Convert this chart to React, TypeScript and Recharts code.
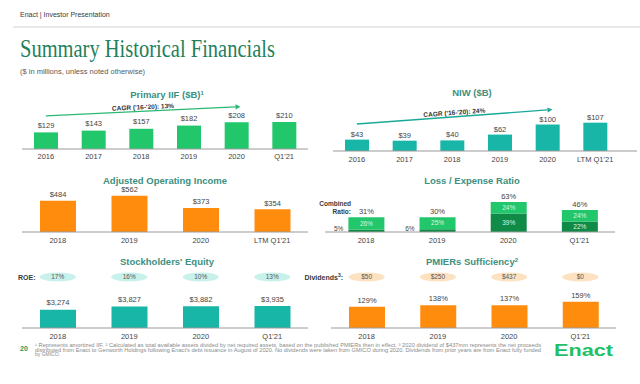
import { BarChart, Bar, XAxis, YAxis, LabelList, ReferenceLine } from "recharts";

const FONT = "'Liberation Sans', Arial, sans-serif";

// Primary IIF ($B)
const iifCats = ["2016", "2017", "2018", "2019", "2020", "Q1'21"];
const iifValues = [129, 143, 157, 182, 208, 210];

// NIW ($B)
const niwCats = ["2016", "2017", "2018", "2019", "2020", "LTM Q1'21"];
const niwValues = [43, 39, 40, 62, 100, 107];

// Adjusted operating income ($mm)
const aoiCats = ["2018", "2019", "2020", "LTM Q1'21"];
const aoiValues = [484, 562, 373, 354];

// Loss / expense ratio (%)
const ratioCats = ["2018", "2019", "2020", "Q1'21"];
const lossRatio = [5, 6, 39, 22];
const expenseRatio = [26, 25, 24, 24];
const combinedRatio = [31, 30, 63, 46];

// Stockholders' equity ($mm) and ROE
const equityCats = ["2018", "2019", "2020", "Q1'21"];
const equityValues = [3274, 3827, 3882, 3935];
const roeLabels = ["17%", "16%", "10%", "13%"];

// PMIERs sufficiency (%) and dividends
const pmiersCats = ["2018", "2019", "2020", "Q1'21"];
const pmiersValues = [129, 138, 137, 159];
const dividendLabels = ["$50", "$250", "$437", "$0"];

const GREEN = "#22c76b";
const DARK_GREEN = "#0f8a47";
const TEAL = "#17b6a7";
const ORANGE = "#ff8c0c";
const HEAD = "#3d8f80";
const AXIS = "#9a9a9a";

const iifData = iifCats.map((cat, i) => ({ cat, value: iifValues[i] }));
const niwData = niwCats.map((cat, i) => ({ cat, value: niwValues[i] }));
const aoiData = aoiCats.map((cat, i) => ({ cat, value: aoiValues[i] }));
const ratioData = ratioCats.map((cat, i) => ({
  cat,
  loss: lossRatio[i],
  expense: expenseRatio[i],
  combined: combinedRatio[i],
}));
const equityData = equityCats.map((cat, i) => ({ cat, value: equityValues[i], roe: roeLabels[i] }));
const pmiersData = pmiersCats.map((cat, i) => ({ cat, value: pmiersValues[i], div: dividendLabels[i] }));

const tickStyle = { fontSize: 7.5, fill: "#444", fontFamily: FONT };
const labelStyle = { fontSize: 7.5, fill: "#444", fontFamily: FONT };

const dollar = (v: any) => "$" + Number(v).toLocaleString("en-US");
const pct = (v: any) => v + "%";

// arrow with the CAGR text sitting on it
const cagrShape = (text: string, color: string, extend: number) => (p: any) => {
  const { x1, y1 } = p;
  const ang = Math.atan2(p.y2 - p.y1, p.x2 - p.x1);
  const x2 = p.x2 + extend * Math.cos(ang);
  const y2 = p.y2 + extend * Math.sin(ang);
  const deg = (ang * 180) / Math.PI;
  const mx = (x1 + x2) / 2;
  const my = (y1 + y2) / 2;
  const hx = x2 - 5 * Math.cos(ang);
  const hy = y2 - 5 * Math.sin(ang);
  const nx = -Math.sin(ang) * 2.6;
  const ny = Math.cos(ang) * 2.6;
  return (
    <g>
      <line x1={x1} y1={y1} x2={hx} y2={hy} stroke={color} strokeWidth={1.3} />
      <polygon points={`${x2},${y2} ${hx + nx},${hy + ny} ${hx - nx},${hy - ny}`} fill={color} />
      <text
        x={mx}
        y={my - 2}
        textAnchor="middle"
        fontSize={6.5}
        fontWeight="bold"
        fill="#333"
        fontFamily={FONT}
        transform={`rotate(${deg} ${mx} ${my})`}
      >
        {text}
      </text>
    </g>
  );
};

const pillTick = (fill: string, dy: number) => (p: any) => (
  <g>
    <ellipse cx={p.x} cy={p.y + dy} rx={18} ry={4.6} fill={fill} />
    <text x={p.x} y={p.y + dy} dy="0.35em" textAnchor="middle" fontSize={6.5} fill="#555" fontFamily={FONT}>
      {p.payload.value}
    </text>
  </g>
);

const lossLabel = (p: any) => {
  const vb = p.viewBox || p;
  const { x, y, width, height } = vb;
  const v = p.value;
  if (v < 10) {
    return (
      <text x={x - 5} y={y + height / 2} dy="0.1em" textAnchor="end" fontSize={6.5} fill="#444" fontFamily={FONT}>
        {v}%
      </text>
    );
  }
  return (
    <text x={x + width / 2} y={y + height / 2} dy="0.35em" textAnchor="middle" fontSize={6.5} fill="#d9f5e3" fontFamily={FONT}>
      {v}%
    </text>
  );
};

const Box = ({ left, top, children }: any) => (
  <div style={{ position: "absolute", left, top }}>{children}</div>
);

const App = () => {
  return (
    <div
      style={{
        position: "absolute",
        left: 0,
        top: 0,
        width: 640,
        height: 384,
        background: "#fff",
        overflow: "hidden",
        fontFamily: FONT,
      }}
    >
      <svg width={640} height={384} style={{ position: "absolute", left: 0, top: 0 }}>
        <text x={20} y={17} fontSize={7} fill="#3a3a3a" fontFamily={FONT}>
          Enact | Investor Presentation
        </text>
        <line x1={13} x2={640} y1={27} y2={27} stroke="#d4d4d4" strokeWidth={1} />
        <text
          x={20}
          y={57}
          fontSize={25}
          fill="#23805a"
          fontFamily="'Liberation Serif', 'DejaVu Serif', serif"
          textLength={255}
          lengthAdjust="spacingAndGlyphs"
        >
          Summary Historical Financials
        </text>
        <text x={20} y={74} fontSize={7.5} fill="#595959" fontFamily={FONT}>
          ($ in millions, unless noted otherwise)
        </text>

        <g fontFamily={FONT} fontWeight="bold" fontSize={9.5} fill={HEAD} textAnchor="middle">
          <text x={167} y={98.4}>
            Primary IIF ($B)<tspan fontSize={6} dy={-3.5}>1</tspan>
          </text>
          <text x={472} y={96.4}>NIW ($B)</text>
          <text x={165} y={184.4}>Adjusted Operating Income</text>
          <text x={472} y={184.4}>Loss / Expense Ratio</text>
          <text x={167} y={265.4}>Stockholders' Equity</text>
          <text x={472} y={265.4}>
            PMIERs Sufficiency<tspan fontSize={6} dy={-3.5}>2</tspan>
          </text>
        </g>

        <g fontFamily={FONT} fontWeight="bold" fill="#3a3a3a">
          <text x={351} y={205.5} fontSize={6.5} textAnchor="end">Combined</text>
          <text x={351} y={213.5} fontSize={6.5} textAnchor="end">Ratio:</text>
          <text x={18} y={279.5} fontSize={7}>ROE:</text>
          <text x={343} y={279.5} fontSize={7} textAnchor="end">
            Dividends<tspan fontSize={5} dy={-2.5}>3</tspan>
            <tspan dy={2.5}>:</tspan>
          </text>
        </g>

        <text x={20} y={350.5} fontSize={7} fontWeight="bold" fill="#1f9a5c" fontFamily={FONT}>
          20
        </text>
        <g fontFamily={FONT} fontSize={5} fill="#8a8a8a">
          <text x={35} y={346.5} textLength={506} lengthAdjust="spacingAndGlyphs">
            ¹ Represents amortized IIF. ² Calculated as total available assets divided by net required assets, based on the published PMIERs then in effect. ³ 2020 dividend of $437mm represents the net proceeds
          </text>
          <text x={35} y={351.5} textLength={506} lengthAdjust="spacingAndGlyphs">
            distributed from Enact to Genworth Holdings following Enact's debt issuance in August of 2020. No dividends were taken from GMICO during 2020. Dividends from prior years are from Enact fully funded
          </text>
          <text x={35} y={356}>by GMICO.</text>
        </g>
        <text
          x={554}
          y={356}
          fontSize={16}
          fontWeight="bold"
          fill="#22c064"
          fontFamily={FONT}
          textLength={59}
          lengthAdjust="spacingAndGlyphs"
        >
          Enact
        </text>
      </svg>

      {/* Primary IIF */}
      <Box left={0} top={97}>
        <BarChart width={330} height={70} data={iifData} margin={{ top: 0, right: 22, bottom: 0, left: 22 }}>
          <XAxis
            dataKey="cat"
            interval={0}
            height={18}
            tickLine={false}
            tickSize={0}
            tickMargin={4.5}
            axisLine={{ stroke: AXIS }}
            tick={tickStyle}
          />
          <YAxis hide domain={[0, 404]} allowDataOverflow />
          <Bar dataKey="value" fill={GREEN} barSize={24} isAnimationActive={false}>
            <LabelList dataKey="value" position="top" offset={4.3} formatter={dollar} style={labelStyle} />
          </Bar>
          <ReferenceLine
            segment={[
              { x: "2016", y: 257 },
              { x: "2020", y: 327 },
            ]}
            shape={cagrShape("CAGR ('16-'20): 13%", "#2cb872", 4)}
          />
        </BarChart>
      </Box>

      {/* NIW */}
      <Box left={320} top={97}>
        <BarChart width={320} height={72} data={niwData} margin={{ top: 0, right: 3, bottom: 0, left: 13 }}>
          <XAxis
            dataKey="cat"
            interval={0}
            height={18}
            tickLine={false}
            tickSize={0}
            tickMargin={6}
            padding={{ left: 0, right: 18 }}
            axisLine={{ stroke: AXIS }}
            tick={tickStyle}
          />
          <YAxis hide domain={[0, 204]} allowDataOverflow />
          <Bar dataKey="value" fill={TEAL} barSize={24} isAnimationActive={false}>
            <LabelList dataKey="value" position="top" offset={3} formatter={dollar} style={labelStyle} />
          </Bar>
          <ReferenceLine
            segment={[
              { x: "2016", y: 102 },
              { x: "2020", y: 155 },
            ]}
            shape={cagrShape("CAGR ('16-'20): 24%", "#1aa898", 5)}
          />
        </BarChart>
      </Box>

      {/* Adjusted Operating Income */}
      <Box left={0} top={185}>
        <BarChart width={330} height={65} data={aoiData} margin={{ top: 0, right: 22, bottom: 0, left: 22 }}>
          <XAxis
            dataKey="cat"
            interval={0}
            height={18}
            tickLine={false}
            tickSize={0}
            tickMargin={6}
            axisLine={{ stroke: AXIS }}
            tick={tickStyle}
          />
          <YAxis hide domain={[0, 728]} allowDataOverflow />
          <Bar dataKey="value" fill={ORANGE} barSize={36} isAnimationActive={false}>
            <LabelList dataKey="value" position="top" offset={3.5} formatter={dollar} style={labelStyle} />
          </Bar>
        </BarChart>
      </Box>

      {/* Loss / Expense Ratio */}
      <Box left={320} top={185}>
        <BarChart width={320} height={65} data={ratioData} margin={{ top: 0, right: 25, bottom: 0, left: 5 }}>
          <XAxis
            dataKey="cat"
            interval={0}
            height={18}
            tickLine={false}
            tickSize={0}
            tickMargin={6}
            padding={{ left: 5.4, right: 0 }}
            axisLine={{ stroke: AXIS }}
            tick={tickStyle}
          />
          <YAxis hide domain={[0, 98.7]} allowDataOverflow />
          <Bar dataKey="loss" stackId="r" fill={DARK_GREEN} barSize={36} isAnimationActive={false}>
            <LabelList dataKey="loss" content={lossLabel} />
          </Bar>
          <Bar dataKey="expense" stackId="r" fill={GREEN} barSize={36} isAnimationActive={false}>
            <LabelList dataKey="expense" position="center" formatter={pct} style={{ fontSize: 6.5, fill: "#d9f5e3", fontFamily: FONT }} />
            <LabelList dataKey="combined" position="top" offset={3.5} formatter={pct} style={labelStyle} />
          </Bar>
        </BarChart>
      </Box>

      {/* Stockholders' Equity */}
      <Box left={0} top={266}>
        <BarChart width={330} height={80} data={equityData} margin={{ top: 0, right: 22, bottom: 0, left: 22 }}>
          <XAxis
            xAxisId="roe"
            orientation="top"
            dataKey="roe"
            interval={0}
            height={24}
            axisLine={false}
            tickLine={false}
            tickSize={0}
            tickMargin={0}
            tick={pillTick("#c9f1ec", -13)}
          />
          <XAxis
            dataKey="cat"
            interval={0}
            height={18}
            tickLine={false}
            tickSize={0}
            tickMargin={5.5}
            axisLine={{ stroke: AXIS }}
            tick={tickStyle}
          />
          <YAxis hide domain={[0, 6797]} allowDataOverflow />
          <Bar dataKey="value" fill={TEAL} barSize={36} isAnimationActive={false}>
            <LabelList dataKey="value" position="top" offset={4.3} formatter={dollar} style={labelStyle} />
          </Bar>
        </BarChart>
      </Box>

      {/* PMIERs Sufficiency */}
      <Box left={320} top={266}>
        <BarChart width={320} height={80} data={pmiersData} margin={{ top: 0, right: 24, bottom: 0, left: 11 }}>
          <XAxis
            xAxisId="div"
            orientation="top"
            dataKey="div"
            interval={0}
            height={24}
            axisLine={false}
            tickLine={false}
            tickSize={0}
            tickMargin={0}
            tick={pillTick("#fde2c2", -13)}
          />
          <XAxis
            dataKey="cat"
            interval={0}
            height={18}
            tickLine={false}
            tickSize={0}
            tickMargin={5.5}
            axisLine={{ stroke: AXIS }}
            tick={tickStyle}
          />
          <YAxis hide domain={[0, 229.7]} allowDataOverflow />
          <Bar dataKey="value" fill={ORANGE} barSize={36} isAnimationActive={false}>
            <LabelList dataKey="value" position="top" offset={4} formatter={pct} style={labelStyle} />
          </Bar>
        </BarChart>
      </Box>
    </div>
  );
};

export default App;
